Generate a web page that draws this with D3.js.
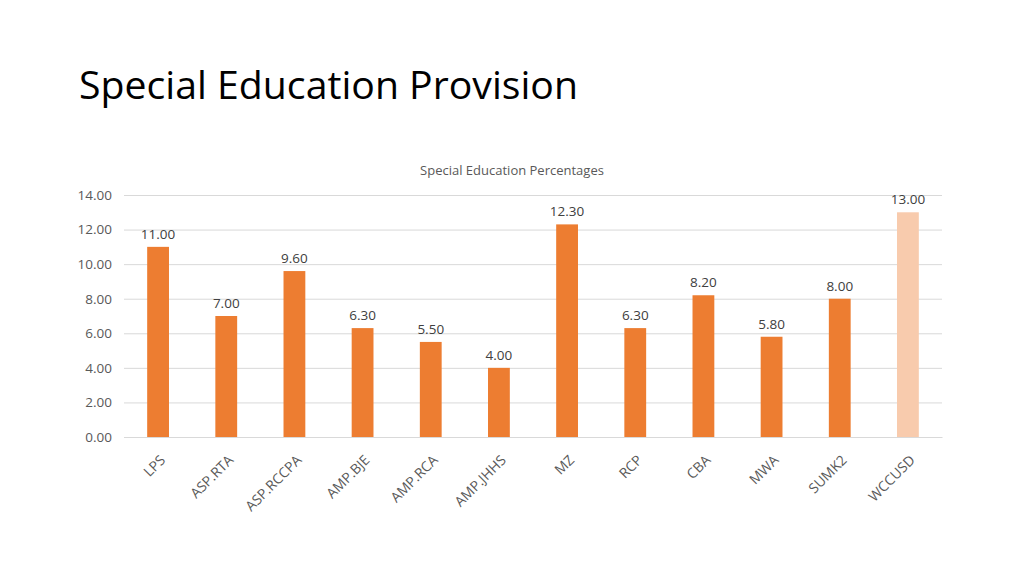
<!DOCTYPE html>
<html>
<head>
<meta charset="utf-8">
<script src="https://cdn.jsdelivr.net/npm/d3@7"></script>
<style>
  html, body { margin: 0; padding: 0; background: #fff; }
  svg { display: block; }
</style>
</head>
<body>
<svg id="chart" width="1024" height="576"></svg>
<script>
const categories = ["LPS", "ASP.RTA", "ASP.RCCPA", "AMP.BJE", "AMP.RCA", "AMP.JHHS", "MZ", "RCP", "CBA", "MWA", "SUMK2", "WCCUSD"];
const values = [11.00, 7.00, 9.60, 6.30, 5.50, 4.00, 12.30, 6.30, 8.20, 5.80, 8.00, 13.00];
const highlight = ["WCCUSD"];
const yTicks = [0, 2, 4, 6, 8, 10, 12, 14];
const pageTitle = "Special Education Provision";
const chartTitle = "Special Education Percentages";

(function () {
const svg = d3.select("#chart");
const font = "'Open Sans', 'Liberation Sans', sans-serif";

const plotLeft = 124, plotRight = 942, plotTop = 195, plotBottom = 437;

const x = d3.scaleBand().domain(categories).range([plotLeft, plotRight]).paddingInner(0.68).paddingOuter(0.34);
const y = d3.scaleLinear().domain([0, 14]).range([plotBottom, plotTop]);

// Page title
svg.append("text")
  .attr("x", 79).attr("y", 99)
  .attr("font-family", "'Open Sans', 'Liberation Sans', sans-serif")
  .attr("font-size", 39)
  .attr("fill", "#000")
  .attr("textLength", 499)
  .attr("lengthAdjust", "spacingAndGlyphs")
  .text(pageTitle);

// Chart title
svg.append("text")
  .attr("x", 512).attr("y", 175)
  .attr("text-anchor", "middle")
  .attr("font-family", font)
  .attr("font-size", 13)
  .attr("fill", "#595959")
  .text(chartTitle);

// Gridlines + y axis
const yAxis = d3.axisLeft(y).tickValues(yTicks).tickFormat(d3.format(".2f")).tickSize(-(plotRight - plotLeft)).tickPadding(12);
const gy = svg.append("g").attr("transform", `translate(${plotLeft},0)`).call(yAxis);
gy.select(".domain").remove();
gy.selectAll(".tick line").attr("stroke", "#d9d9d9").attr("stroke-width", 1);
gy.selectAll(".tick text")
  .attr("font-family", font).attr("font-size", 13.5).attr("fill", "#595959");

// x axis
const xAxis = d3.axisBottom(x).tickSize(0).tickPadding(0);
const gx = svg.append("g").attr("transform", `translate(0,${plotBottom})`).call(xAxis);
gx.select(".domain").attr("stroke", "#d9d9d9");
gx.selectAll(".tick text")
  .attr("font-family", font).attr("font-size", 14).attr("fill", "#595959")
  .attr("text-anchor", "end")
  .attr("dy", null)
  .attr("transform", "translate(8,24) rotate(-45)");

// Bars
svg.append("g").selectAll("rect")
  .data(categories)
  .join("rect")
  .attr("x", d => x(d))
  .attr("width", x.bandwidth())
  .attr("y", (d, i) => y(values[i]))
  .attr("height", (d, i) => y(0) - y(values[i]))
  .attr("fill", d => highlight.includes(d) ? "#F8CBAD" : "#ED7D31");

// Value labels
svg.append("g").selectAll("text")
  .data(categories)
  .join("text")
  .attr("x", d => x(d) + x.bandwidth() / 2)
  .attr("y", (d, i) => y(values[i]) - 8)
  .attr("text-anchor", "middle")
  .attr("font-family", font)
  .attr("font-size", 13.5)
  .attr("fill", "#404040")
  .text((d, i) => values[i].toFixed(2));
})();
</script>
</body>
</html>
